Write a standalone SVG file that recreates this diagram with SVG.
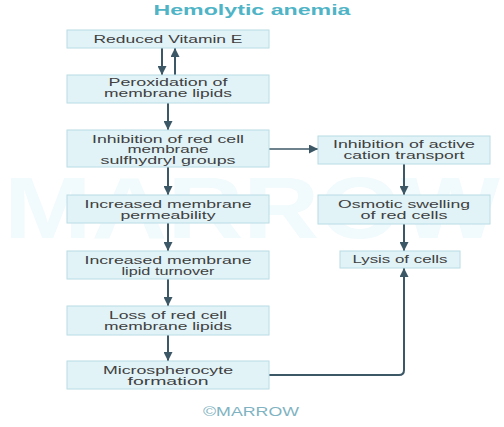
<svg xmlns="http://www.w3.org/2000/svg" width="504" height="427" viewBox="0 0 504 427">
<defs>
<style>
.box{fill:#e1f3f7;stroke:#b9dce5;stroke-width:1}
.t{font-family:"Liberation Sans",Arial,sans-serif;font-size:11px;fill:#404040;text-anchor:middle}
.ln{stroke:#3c5866;stroke-width:2;fill:none}
.thin{stroke:#3c5866;stroke-width:1.5;fill:none}
</style>
<marker id="ah" viewBox="0 0 10 10" refX="10" refY="5" markerWidth="9" markerHeight="9" markerUnits="userSpaceOnUse" orient="auto">
<path d="M0,0 L10,5 L0,10 Z" fill="#3c5866"/>
</marker>
</defs>
<rect width="504" height="427" fill="#ffffff"/>
<text x="252" y="238" font-family="'Liberation Sans',Arial,sans-serif" font-size="88" font-weight="bold" fill="#f1fafc" text-anchor="middle" textLength="496" lengthAdjust="spacingAndGlyphs">MARROW</text>
<text x="252" y="15" font-family="'Liberation Sans',Arial,sans-serif" font-size="14" font-weight="bold" fill="#4fb4c6" text-anchor="middle" textLength="197" lengthAdjust="spacingAndGlyphs">Hemolytic anemia</text>

<g id="connectors">
<line class="ln" x1="162" y1="48" x2="162" y2="75" marker-end="url(#ah)"/>
<line class="ln" x1="175" y1="75" x2="175" y2="48" marker-end="url(#ah)"/>
<line class="ln" x1="168" y1="103" x2="168" y2="130" marker-end="url(#ah)"/>
<line class="ln" x1="168" y1="167" x2="168" y2="195" marker-end="url(#ah)"/>
<line class="ln" x1="168" y1="223" x2="168" y2="251" marker-end="url(#ah)"/>
<line class="ln" x1="168" y1="279" x2="168" y2="306" marker-end="url(#ah)"/>
<line class="ln" x1="168" y1="335" x2="168" y2="361" marker-end="url(#ah)"/>
<line class="thin" x1="269" y1="149" x2="318" y2="149" marker-end="url(#ah)"/>
<line class="ln" x1="404" y1="164" x2="404" y2="195" marker-end="url(#ah)"/>
<line class="ln" x1="404" y1="224" x2="404" y2="251" marker-end="url(#ah)"/>
<path class="ln" d="M269,375 H399 Q404,375 404,370 V268" marker-end="url(#ah)"/>
</g>

<g id="n1"><rect class="box" x="67" y="30" width="202" height="18"/>
<text class="t" x="168" y="43" textLength="149" lengthAdjust="spacingAndGlyphs">Reduced Vitamin E</text></g>
<g id="n2"><rect class="box" x="67" y="75" width="202" height="28"/>
<text class="t" x="168" y="86" textLength="119" lengthAdjust="spacingAndGlyphs">Peroxidation of</text>
<text class="t" x="168" y="97" textLength="128" lengthAdjust="spacingAndGlyphs">membrane lipids</text></g>
<g id="n3"><rect class="box" x="67" y="130" width="202" height="37"/>
<text class="t" x="168" y="143" textLength="152" lengthAdjust="spacingAndGlyphs">Inhibition of red cell</text>
<text class="t" x="168" y="153" textLength="81" lengthAdjust="spacingAndGlyphs">membrane</text>
<text class="t" x="168" y="164" textLength="135" lengthAdjust="spacingAndGlyphs">sulfhydryl groups</text></g>
<g id="n4"><rect class="box" x="67" y="195" width="202" height="28"/>
<text class="t" x="168" y="208" textLength="167" lengthAdjust="spacingAndGlyphs">Increased membrane</text>
<text class="t" x="168" y="219" textLength="95" lengthAdjust="spacingAndGlyphs">permeability</text></g>
<g id="n5"><rect class="box" x="67" y="251" width="202" height="28"/>
<text class="t" x="168" y="264" textLength="167" lengthAdjust="spacingAndGlyphs">Increased membrane</text>
<text class="t" x="168" y="275" textLength="93" lengthAdjust="spacingAndGlyphs">lipid turnover</text></g>
<g id="n6"><rect class="box" x="67" y="306" width="202" height="29"/>
<text class="t" x="168" y="319" textLength="118" lengthAdjust="spacingAndGlyphs">Loss of red cell</text>
<text class="t" x="168" y="330" textLength="128" lengthAdjust="spacingAndGlyphs">membrane lipids</text></g>
<g id="n7"><rect class="box" x="67" y="361" width="202" height="28"/>
<text class="t" x="168" y="374" textLength="130" lengthAdjust="spacingAndGlyphs">Microspherocyte</text>
<text class="t" x="168" y="385" textLength="81" lengthAdjust="spacingAndGlyphs">formation</text></g>
<g id="r1"><rect class="box" x="318" y="136" width="172" height="28"/>
<text class="t" x="404" y="148" textLength="142" lengthAdjust="spacingAndGlyphs">Inhibition of active</text>
<text class="t" x="404" y="159" textLength="121" lengthAdjust="spacingAndGlyphs">cation transport</text></g>
<g id="r2"><rect class="box" x="318" y="195" width="172" height="29"/>
<text class="t" x="404" y="208" textLength="132" lengthAdjust="spacingAndGlyphs">Osmotic swelling</text>
<text class="t" x="404" y="219" textLength="87" lengthAdjust="spacingAndGlyphs">of red cells</text></g>
<g id="r3"><rect class="box" x="340" y="251" width="120" height="17"/>
<text class="t" x="400" y="263" textLength="95" lengthAdjust="spacingAndGlyphs">Lysis of cells</text></g>

<text x="251" y="416" font-family="'Liberation Sans',Arial,sans-serif" font-size="13" fill="#7fb3c2" text-anchor="middle" textLength="96" lengthAdjust="spacingAndGlyphs">©MARROW</text>
</svg>
